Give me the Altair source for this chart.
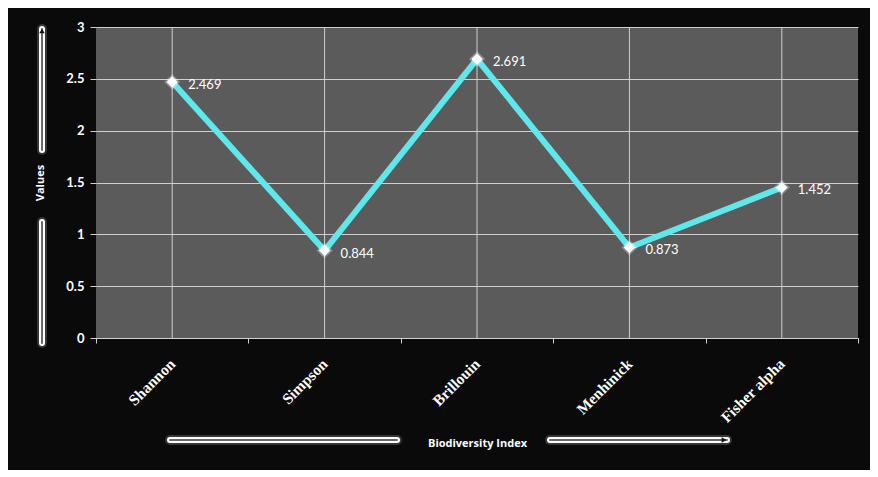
import altair as alt
import pandas as pd

indices = ["Shannon", "Simpson", "Brillouin", "Menhinick", "Fisher alpha"]
values = [2.469, 0.844, 2.691, 0.873, 1.452]
labels = ["2.469", "0.844", "2.691", "0.873", "1.452"]
y_ticks = [0, 0.5, 1, 1.5, 2, 2.5, 3]

df = pd.DataFrame({"Index": indices, "Value": values, "Label": labels})

W, H = 762, 311
CYAN = "#5ee8ec"

xenc = alt.X(
    "Index:N",
    sort=indices,
    scale=alt.Scale(paddingInner=0, paddingOuter=0),
    axis=alt.Axis(
        title="Biodiversity Index",
        titleColor="white", titleFont="Open Sans", titleFontSize=11, titleFontWeight="bold",
        titleY=105, titleBaseline="middle",
        labelAngle=315, labelAlign="right", labelBaseline="middle",
        labelFont="Liberation Serif", labelFontSize=15.5, labelFontWeight="bold",
        labelColor="white", labelPadding=18,
        tickBand="extent", tickColor="#d0d0d0", tickSize=5,
        domain=True, domainColor="#d0d0d0", grid=False,
    ),
)
yenc = alt.Y(
    "Value:Q",
    scale=alt.Scale(domain=[0, 3], nice=False, zero=True),
    axis=alt.Axis(
        values=y_ticks, format="~g", title="Values",
        titleColor="white", titleFont="Open Sans", titleFontSize=11, titleFontWeight="bold",
        titleX=-56, titleAngle=270, titleBaseline="middle",
        labelColor="white", labelFont="Lato", labelFontSize=13, labelFontWeight="bold",
        labelPadding=6,
        tickColor="#d0d0d0", tickSize=6, domain=False,
        grid=True, gridColor="#cfcfcf", gridWidth=1,
    ),
)

base = alt.Chart(df)
vgrid = base.mark_rule(color="#cfcfcf", strokeWidth=1).encode(x=xenc)
line = base.mark_line(color=CYAN, strokeWidth=6).encode(x=xenc, y=yenc)
glow = base.mark_point(shape="diamond", filled=True, color="white", size=260, opacity=0.3).encode(x=xenc, y=yenc)
pts = base.mark_point(shape="diamond", filled=True, color="white", size=130, opacity=1).encode(x=xenc, y=yenc)
txt = base.mark_text(align="left", baseline="middle", dx=16, dy=3, color="white",
                     font="Lato", fontSize=13).encode(x=xenc, y=yenc, text="Label:N")

one = alt.Data(values=[{"a": 1}])


def bar(x1, x2, y1, y2):
    layers = []
    for w, c, o in [(10, "white", 0.18), (6, "white", 1.0), (2, "#6a6a6a", 1.0)]:
        layers.append(
            alt.Chart(one).mark_rule(color=c, strokeWidth=w, opacity=o, strokeCap="round").encode(
                x=alt.value(x1), x2=alt.value(x2), y=alt.value(y1), y2=alt.value(y2)
            )
        )
    return layers


def arrow(x, y, shape):
    return alt.Chart(one).mark_point(shape=shape, filled=True, color="#111", size=30, opacity=1).encode(
        x=alt.value(x), y=alt.value(y)
    )


decor = []
decor += bar(-54, -54, 2, 123)
decor += bar(-54, -54, 195, 316)
decor += bar(74, 301, 413, 413)
decor += bar(454, 631, 413, 413)
decor += [arrow(-54, 4, "triangle-up"), arrow(628, 413, "triangle-right")]

chart = alt.layer(vgrid, line, glow, pts, txt, *decor).properties(
    width=W, height=H,
    autosize=alt.AutoSizeParams(type="none"),
    padding={"left": 88, "top": 19, "right": 12, "bottom": 132},
    background="#0a0a0a",
).configure_view(fill="#5b5b5b", stroke=None)

chart.save("out.html", embed_options={"renderer": "svg", "actions": False})
